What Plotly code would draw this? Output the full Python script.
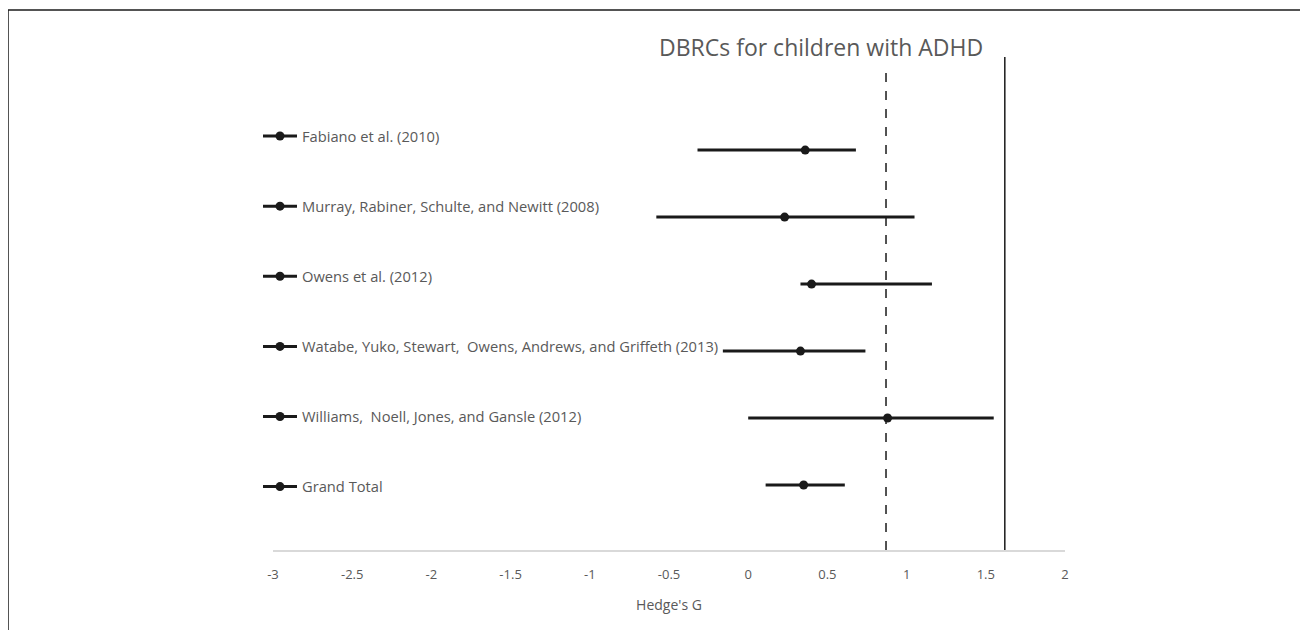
import plotly.graph_objects as go

studies = [
    "Fabiano et al. (2010)",
    "Murray, Rabiner, Schulte, and Newitt (2008)",
    "Owens et al. (2012)",
    "Watabe, Yuko, Stewart,  Owens, Andrews, and Griffeth (2013)",
    "Williams,  Noell, Jones, and Gansle (2012)",
    "Grand Total",
]
effect = [0.36, 0.23, 0.40, 0.33, 0.88, 0.35]
ci_low = [-0.32, -0.58, 0.33, -0.16, 0.00, 0.11]
ci_high = [0.68, 1.05, 1.16, 0.74, 1.55, 0.61]
rows = [1, 2, 3, 4, 5, 6]
dashed_ref = 0.87
solid_ref = 1.62
x_ticks = [-3, -2.5, -2, -1.5, -1, -0.5, 0, 0.5, 1, 1.5, 2]

INK = "#1a1a1a"
GREY = "#595959"
FONT = "'Open Sans', Lato, sans-serif"

# page offset (body margin) and plot geometry in page pixels
OFF = 8
PL, PR, PT, PB = 273, 1065, 57, 550
PW, PH = PR - PL, PB - PT


def px(p):
    return (p - PL) / PW


def py(p):
    return (PB - p) / PH


fig = go.Figure()
for i, name in enumerate(studies):
    fig.add_trace(go.Scatter(
        x=[effect[i]], y=[rows[i]], name=name,
        mode="lines+markers",
        legendgroup=f"g{i}",
        marker=dict(size=9, color=INK),
        line=dict(width=3, color=INK),
        error_x=dict(type="data", symmetric=False,
                     array=[ci_high[i] - effect[i]],
                     arrayminus=[effect[i] - ci_low[i]],
                     thickness=3, width=0, color=INK),
        hoverinfo="x+name",
    ))

fig.add_shape(type="line", x0=solid_ref, x1=solid_ref, y0=0, y1=1,
              xref="x", yref="paper", line=dict(color=INK, width=1.5))
fig.add_shape(type="line", x0=dashed_ref, x1=dashed_ref, y0=0, y1=0.98,
              xref="x", yref="paper", line=dict(color=INK, width=1.5, dash="dash"))

# outer border (left and top)
fig.add_shape(type="line", xref="paper", yref="paper",
              x0=px(8), x1=px(8), y0=py(660), y1=py(10),
              line=dict(color=INK, width=1.5))
fig.add_shape(type="line", xref="paper", yref="paper",
              x0=px(8), x1=px(1330), y0=py(10), y1=py(10),
              line=dict(color=INK, width=1.5))

fig.add_annotation(text="DBRCs for children with ADHD", xref="paper", yref="paper",
                   x=px(821), y=py(47), showarrow=False,
                   font=dict(family=FONT, size=23, color=GREY),
                   xanchor="center", yanchor="middle")

fig.update_layout(
    width=1308, height=630,
    margin=dict(l=PL - OFF, r=1308 - PR + OFF, t=PT - OFF, b=630 - PB + OFF),
    paper_bgcolor="white", plot_bgcolor="white",
    font=dict(family=FONT, color=GREY),
    showlegend=True,
    legend=dict(x=px(258), y=py(120), xanchor="left", yanchor="top",
                font=dict(family=FONT, size=14.7, color=GREY),
                tracegroupgap=48, itemwidth=34, bgcolor="rgba(0,0,0,0)"),
    xaxis=dict(range=[-3, 2], tickvals=x_ticks, ticktext=[f"{v:g}" for v in x_ticks],
               showgrid=False, zeroline=False, showline=True, linecolor="#d9d9d9", linewidth=1.5,
               ticks="", ticklabelstandoff=12,
               tickfont=dict(family=FONT, size=13, color=GREY),
               title=dict(text="Hedge's G", font=dict(family=FONT, size=14, color=GREY), standoff=18)),
    yaxis=dict(range=[6.97, -0.39], visible=False, showgrid=False, zeroline=False),
)

fig.write_html("out.html")
